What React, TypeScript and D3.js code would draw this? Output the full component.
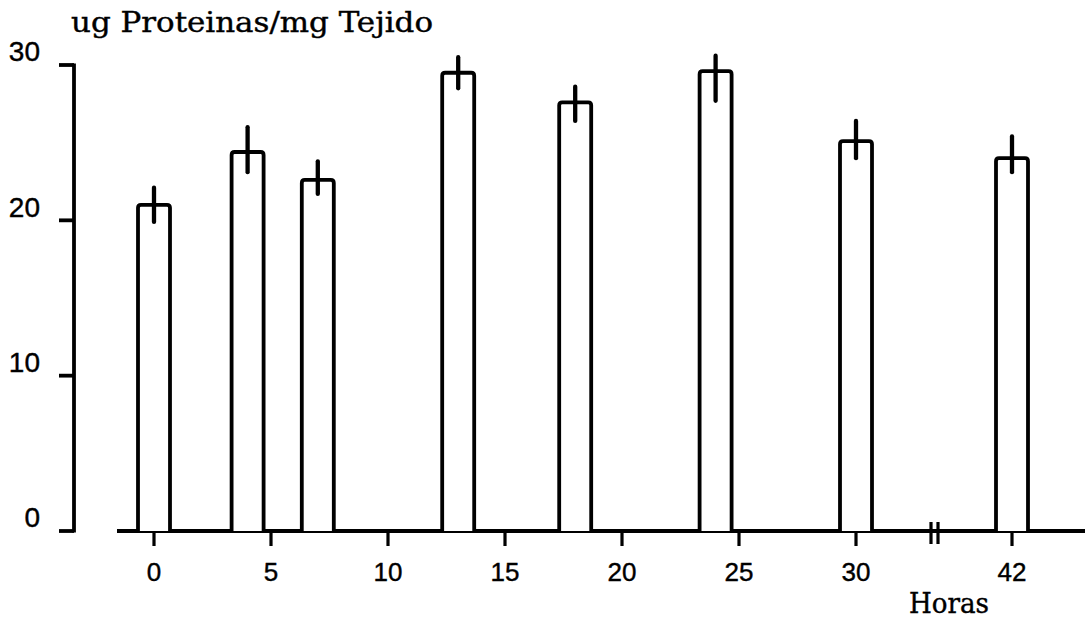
import React from "react";
import * as d3 from "d3";

const hours = [0, 4, 7, 13, 18, 24, 30, 42];
const values = [21.0, 24.4, 22.6, 29.5, 27.6, 29.6, 25.1, 24.0];
const errLow = [19.9, 23.1, 21.7, 28.5, 26.4, 27.7, 24.0, 23.1];
const errHigh = [22.1, 26.0, 23.8, 30.5, 28.6, 30.6, 26.4, 25.4];
const xTicks = [0, 5, 10, 15, 20, 25, 30, 42];
const yTicks = [0, 10, 20, 30];
const yTitle = "ug Proteinas/mg Tejido";
const xTitle = "Horas";

const W = 1085;
const H = 624;

export default function App() {
  const x = d3.scaleLinear().domain([0, 30, 42]).range([154, 856, 1012]);
  const y = d3.scaleLinear().domain([0, 30]).range([531, 65]);
  const barW = 32;
  const sw = 3.8;
  const y0 = y(0);
  const breakX = 934;

  return (
    <svg
      width={W}
      height={H}
      style={{ position: "absolute", left: 0, top: 0, background: "#fff" }}
    >
      {/* y title */}
      <text
        x={71}
        y={32}
        fontFamily="DejaVu Serif"
        fontSize={27}
        textLength={362}
        lengthAdjust="spacingAndGlyphs"
        fill="#000"
        stroke="#000"
        strokeWidth={0.4}
      >
        {yTitle}
      </text>
      {/* y axis */}
      <line x1={74} x2={74} y1={y(30) - 1.5} y2={y0 + 1.5} stroke="#000" strokeWidth={sw} />
      {yTicks.map((t) => (
        <g key={"yt" + t}>
          <line x1={59} x2={74} y1={y(t)} y2={y(t)} stroke="#000" strokeWidth={sw} />
          <text
            x={40}
            y={y(t) - 11}
            textAnchor="end"
            dominantBaseline="middle"
            fontFamily="Liberation Sans, Arial, sans-serif"
            fontSize={28}
            fill="#000"
            stroke="#000"
            strokeWidth={0.4}
          >
            {t}
          </text>
        </g>
      ))}
      {/* x axis */}
      <line x1={117} x2={W} y1={y0} y2={y0} stroke="#000" strokeWidth={sw} />
      <line x1={breakX - 3} x2={breakX - 3} y1={y0 - 9} y2={y0 + 13} stroke="#000" strokeWidth={3.2} />
      <line x1={breakX + 4} x2={breakX + 4} y1={y0 - 9} y2={y0 + 13} stroke="#000" strokeWidth={3.2} />
      {xTicks.map((t) => (
        <g key={"xt" + t}>
          <line x1={x(t)} x2={x(t)} y1={y0} y2={y0 + 15} stroke="#000" strokeWidth={3.2} />
          <text
            x={x(t)}
            y={581}
            textAnchor="middle"
            fontFamily="Liberation Sans, Arial, sans-serif"
            fontSize={26}
            fill="#000"
            stroke="#000"
            strokeWidth={0.4}
          >
            {t}
          </text>
        </g>
      ))}
      <text
        x={909}
        y={613}
        fontFamily="DejaVu Serif"
        fontSize={27}
        textLength={80}
        lengthAdjust="spacingAndGlyphs"
        fill="#000"
        stroke="#000"
        strokeWidth={0.4}
      >
        {xTitle}
      </text>
      {/* bars */}
      {hours.map((h, i) => {
        const cx = x(h);
        const top = y(values[i]);
        const l = cx - barW / 2;
        const r = cx + barW / 2;
        const path = d3.path();
        path.moveTo(l, y0);
        path.lineTo(l, top + 3);
        path.quadraticCurveTo(l, top, l + 3, top);
        path.lineTo(r - 3, top);
        path.quadraticCurveTo(r, top, r, top + 3);
        path.lineTo(r, y0);
        return (
          <g key={"b" + i}>
            <path d={path.toString()} fill="#fff" stroke="#000" strokeWidth={sw} />
            <line
              x1={cx}
              x2={cx}
              y1={y(errHigh[i])}
              y2={y(errLow[i])}
              stroke="#000"
              strokeWidth={sw + 0.5}
              strokeLinecap="round"
            />
          </g>
        );
      })}
    </svg>
  );
}
